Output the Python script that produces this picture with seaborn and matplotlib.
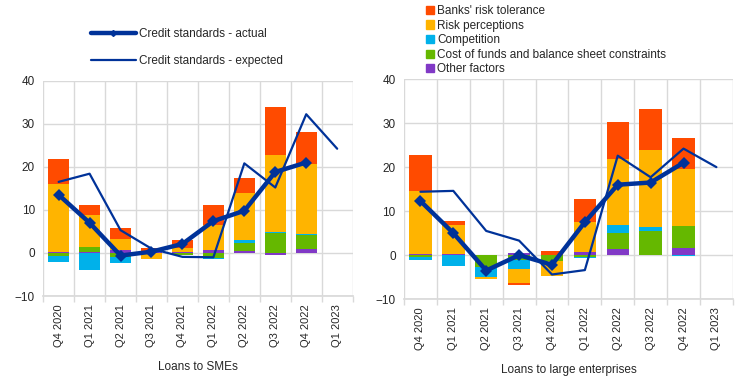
import numpy as np
import pandas as pd
import matplotlib
matplotlib.use("Agg")
import matplotlib.pyplot as plt
from matplotlib.patches import Patch
from matplotlib.lines import Line2D
import seaborn as sns

quarters = ["Q4 2020", "Q1 2021", "Q2 2021", "Q3 2021", "Q4 2021",
            "Q1 2022", "Q2 2022", "Q3 2022", "Q4 2022", "Q1 2023"]

factor_names = ["Other factors", "Cost of funds and balance sheet constraints",
                "Competition", "Risk perceptions", "Banks' risk tolerance"]
factor_colors = ["#8139C6", "#65B800", "#00B1EA", "#FFB400", "#FF4B00"]

# loans to SMEs
sme_other = [0.3, 0.2, 0.6, 0.2, 0.3, 0.6, 0.5, -0.4, 0.85, np.nan]
sme_cost = [-0.7, 1.1, -0.9, 0.0, -0.4, -1.1, 1.9, 4.6, 3.4, np.nan]
sme_comp = [-1.5, -4.0, -1.5, 0.0, 0.0, -0.2, 0.7, 0.3, 0.2, np.nan]
sme_riskp = [15.8, 7.4, 2.6, -1.5, 0.8, 5.9, 10.9, 17.9, 16.2, np.nan]
sme_tol = [5.7, 2.4, 2.7, 1.0, 1.8, 4.7, 3.5, 11.1, 7.4, np.nan]
sme_actual = [13.5, 7.0, -0.6, 0.3, 2.1, 7.4, 9.8, 18.8, 21.0, np.nan]
sme_expected = [16.5, 18.4, 5.3, 1.0, -0.9, -1.0, 20.8, 15.2, 32.2, 24.2]

# loans to large enterprises
le_other = [0.25, 0.3, 0.0, 0.5, 0.0, 0.8, 1.4, 0.0, 1.6, np.nan]
le_cost = [-0.45, 0.0, -2.65, -1.1, -1.4, -0.5, 3.7, 5.4, 5.0, np.nan]
le_comp = [-0.7, -2.4, -2.35, -2.0, 0.0, -0.2, 1.8, 1.0, -0.2, np.nan]
le_riskp = [14.3, 6.5, -0.4, -3.3, -3.3, 6.7, 14.9, 17.6, 13.0, np.nan]
le_tol = [8.3, 1.0, 0.0, -0.3, 0.9, 5.3, 8.5, 9.2, 7.0, np.nan]
le_actual = [12.3, 5.0, -3.5, 0.0, -2.2, 7.5, 16.0, 16.5, 21.0, np.nan]
le_expected = [14.4, 14.6, 5.5, 3.3, -4.4, -3.4, 22.6, 17.7, 24.2, 20.0]

sns.set_theme(style="whitegrid")
plt.rcParams["font.family"] = ["Liberation Sans", "DejaVu Sans"]

NAVY = "#003299"
GRID = "#D9D9D9"

fig = plt.figure(figsize=(7.44, 3.84), dpi=100)
ax1 = fig.add_axes([0.058, 0.229, 0.416, 0.561])
ax2 = fig.add_axes([0.543, 0.221, 0.442, 0.573])


def draw_panel(ax, factors, actual, expected, xlabel):
    x = np.arange(len(quarters))
    pos = np.zeros(len(quarters))
    neg = np.zeros(len(quarters))
    for vals, col in zip(factors, factor_colors):
        v = np.nan_to_num(np.array(vals, dtype=float))
        bottom = np.where(v >= 0, pos, neg)
        ax.bar(x, v, bottom=bottom, width=0.68, color=col, linewidth=0, zorder=2)
        pos = pos + np.where(v >= 0, v, 0)
        neg = neg + np.where(v < 0, v, 0)
    df = pd.DataFrame({"x": x, "actual": actual, "expected": expected})
    sns.lineplot(data=df, x="x", y="expected", ax=ax, color=NAVY, lw=1.6, zorder=3)
    sns.lineplot(data=df.dropna(), x="x", y="actual", ax=ax, color=NAVY, lw=3.2,
                 marker="D", markersize=6.5, markeredgewidth=0, zorder=4)
    ax.set_xlim(-0.5, len(quarters) - 0.5)
    ax.set_ylim(-10, 40)
    ax.set_yticks([-10, 0, 10, 20, 30, 40])
    ax.set_xticks(x)
    ax.set_xticklabels(quarters, rotation=90, fontsize=8)
    ax.set_xticks(np.arange(-0.5, len(quarters)), minor=True)
    ax.grid(False)
    ax.grid(True, axis="y", color=GRID, lw=1, zorder=0)
    ax.grid(True, axis="x", which="minor", color=GRID, lw=1, zorder=0)
    ax.tick_params(axis="y", labelsize=8.5, length=0, pad=6)
    ax.tick_params(axis="x", which="major", length=0, pad=6)
    ax.tick_params(axis="x", which="minor", length=4, color=GRID, bottom=True)
    ax.set_xlabel(xlabel, fontsize=8.5, labelpad=10)
    ax.set_ylabel("")
    for s in ["top", "right", "left"]:
        ax.spines[s].set_visible(False)
    ax.spines["bottom"].set_color(GRID)
    ax.set_facecolor("white")


draw_panel(ax1, [sme_other, sme_cost, sme_comp, sme_riskp, sme_tol],
           sme_actual, sme_expected, "Loans to SMEs")
draw_panel(ax2, [le_other, le_cost, le_comp, le_riskp, le_tol],
           le_actual, le_expected, "Loans to large enterprises")

line_handles = [
    Line2D([0], [0], color=NAVY, lw=3.2, marker="D", markersize=3),
    Line2D([0], [0], color=NAVY, lw=1.6),
]
fig.legend(line_handles, ["Credit standards - actual", "Credit standards - expected"],
           loc="upper left", bbox_to_anchor=(0.122, 0.927), frameon=False,
           fontsize=8.5, handlelength=3.8, labelspacing=1.25, handletextpad=0.3,
           borderaxespad=0, borderpad=0)

patch_handles = [Patch(color=c) for c in factor_colors[::-1]]
fig.legend(patch_handles, factor_names[::-1],
           loc="upper left", bbox_to_anchor=(0.572, 0.987), frameon=False,
           fontsize=8.5, handlelength=0.7, handleheight=0.7, labelspacing=0.22,
           handletextpad=0.3, borderaxespad=0, borderpad=0)

fig.savefig("out.png", dpi=100, facecolor="white")
